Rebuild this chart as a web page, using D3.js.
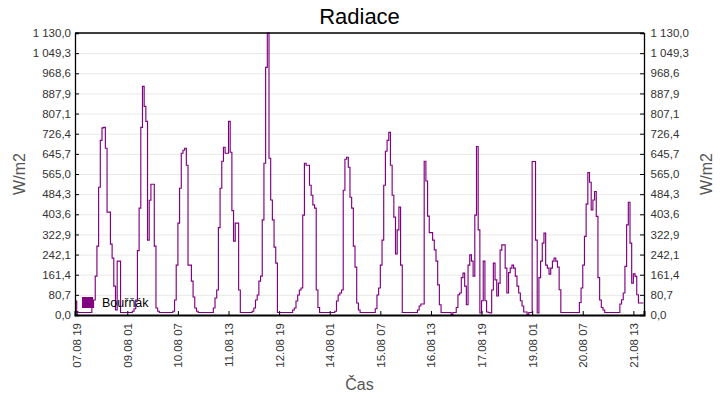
<!DOCTYPE html>
<html>
<head>
<meta charset="utf-8">
<script src="https://cdn.jsdelivr.net/npm/d3@7"></script>
<style>
  body { margin: 0; background: #fff; }
  svg { display: block; font-family: "Liberation Sans", Arial, sans-serif; }
</style>
</head>
<body>
<div class="chart"></div>
<script>
// Data: hourly radiation readings, first one at startTime
var startTime = "2019-08-07T18:00:00Z";
var endTime = "2019-08-21T19:18:00Z";
var radiace = [
  // 07.08 18-23
  56, 12, 10, 10, 10, 10,
  // 08.08
  10, 10, 10, 10, 30, 60, 156, 276, 512, 700, 750, 752, 668, 412, 412, 284, 228, 116, 20, 216, 216, 10, 10, 10,
  // 09.08
  10, 10, 10, 10, 15, 25, 60, 258, 428, 752, 916, 836, 776, 300, 460, 524, 524, 276, 28, 15, 10, 10, 10, 10,
  // 10.08
  10, 10, 10, 10, 15, 60, 200, 368, 508, 648, 660, 668, 600, 200, 200, 136, 72, 28, 15, 10, 10, 10, 10, 10,
  // 11.08
  10, 10, 10, 10, 28, 68, 100, 350, 508, 616, 672, 648, 648, 776, 652, 418, 296, 368, 368, 100, 10, 10, 10, 10,
  // 12.08
  10, 10, 10, 15, 28, 60, 80, 136, 156, 381, 608, 992, 1130, 628, 461, 381, 272, 208, 10, 10, 10, 10, 10, 10,
  // 13.08
  10, 10, 10, 20, 28, 56, 80, 100, 108, 400, 608, 600, 600, 520, 480, 441, 428, 100, 30, 10, 10, 10, 10, 10,
  // 14.08
  10, 10, 10, 10, 15, 56, 80, 88, 100, 500, 624, 632, 592, 472, 428, 276, 192, 48, 20, 10, 10, 10, 10, 10,
  // 15.08
  10, 10, 10, 10, 25, 80, 108, 200, 300, 520, 656, 700, 732, 600, 480, 392, 245, 341, 432, 200, 10, 10, 10, 10,
  // 16.08
  10, 10, 10, 10, 10, 20, 36, 44, 44, 616, 537, 396, 330, 330, 300, 261, 216, 121, 41, 10, 10, 10, 10, 10,
  // 17.08
  10, 2, 10, 10, 30, 81, 88, 150, 168, 116, 41, 200, 241, 216, 156, 400, 675, 341, 8, 57, 216, 57, 12, 10,
  // 18.08
  8, 100, 208, 141, 76, 128, 260, 281, 281, 188, 88, 170, 188, 200, 188, 156, 116, 88, 57, 36, 12, 12, 2, 10,
  // 19.08
  10, 615, 615, 300, 8, 150, 216, 288, 328, 200, 188, 164, 188, 216, 228, 216, 192, 101, 10, 10, 10, 10, 10, 10,
  // 20.08
  10, 10, 10, 10, 10, 50, 108, 200, 315, 444, 571, 532, 421, 461, 495, 395, 150, 60, 30, 20, 10, 10, 10, 10,
  // 21.08 00-19
  10, 10, 10, 10, 10, 44, 61, 88, 195, 361, 452, 288, 128, 165, 155, 81, 48, 48, 48, 48
];
var xTickLabels = ["07.08 19", "09.08 01", "10.08 07", "11.08 13", "12.08 19", "14.08 01",
                   "15.08 07", "16.08 13", "17.08 19", "19.08 01", "20.08 07", "21.08 13"];
var yMax = 1130;
var yTickCount = 14;
var seriesName = "Bouřňák";

// Configuration
var width = 720;
var height = 400;
var plotLeft = 75, plotRight = 644, plotTop = 33, plotBottom = 315;
var purple = "#800080";

var start = new Date(startTime);
var parseTick = d3.utcParse("%Y %d.%m %H");
var tickDates = xTickLabels.map(function(s) { return parseTick("2019 " + s); });

var x = d3.scaleUtc()
    .domain([start, new Date(endTime)])
    .range([plotLeft, plotRight]);

var y = d3.scaleLinear()
    .domain([0, yMax])
    .range([plotBottom, plotTop]);

var yTicks = d3.range(yTickCount + 1).map(function(i) { return i * yMax / yTickCount; });

var cz = d3.formatLocale({decimal: ",", thousands: " ", grouping: [3], currency: ["", ""]});
var fmt = cz.format(",.1f");

var svg = d3.select(".chart").append("svg")
    .attr("width", width)
    .attr("height", height);

svg.append("defs").append("clipPath").attr("id", "plot")
  .append("rect")
    .attr("x", plotLeft).attr("y", plotTop - 1)
    .attr("width", plotRight - plotLeft).attr("height", plotBottom - plotTop + 1);

// gridlines
svg.append("g")
    .attr("transform", "translate(" + plotLeft + ",0)")
    .call(d3.axisLeft(y).tickValues(yTicks).tickSize(-(plotRight - plotLeft)).tickFormat(""))
    .call(function(g) {
      g.select(".domain").remove();
      g.selectAll("line").attr("stroke", "#e8e8e8").attr("stroke-width", 1);
    });

// data line
var points = radiace.map(function(v, i) {
  return {t: d3.utcHour.offset(start, i), v: v};
});

var line = d3.line()
    .curve(d3.curveStepAfter)
    .x(function(d) { return x(d.t); })
    .y(function(d) { return y(d.v); });

svg.append("path")
    .datum(points)
    .attr("clip-path", "url(#plot)")
    .attr("fill", "none")
    .attr("stroke", purple)
    .attr("stroke-width", 1.15)
    .attr("d", line);

// axes
function styleAxis(g, size) {
  g.selectAll("text").attr("fill", "#333").style("font-size", size + "px");
  g.selectAll("line").attr("stroke", "#000");
  g.select(".domain").attr("stroke", "#000").attr("stroke-width", 1.3);
}

svg.append("g")
    .attr("transform", "translate(" + plotLeft + ",0)")
    .call(d3.axisLeft(y).tickValues(yTicks).tickSize(-4).tickPadding(4).tickFormat(fmt))
    .call(function(g) { styleAxis(g, 11.5); });

svg.append("g")
    .attr("transform", "translate(" + plotRight + ",0)")
    .call(d3.axisRight(y).tickValues(yTicks).tickSize(-4).tickPadding(6.5).tickFormat(fmt))
    .call(function(g) { styleAxis(g, 11.5); });

svg.append("g")
    .attr("transform", "translate(0," + plotBottom + ")")
    .call(d3.axisBottom(x).tickValues(tickDates).tickSize(-4)
      .tickFormat(function(d, i) { return xTickLabels[i]; }))
    .call(function(g) {
      styleAxis(g, 11.5);
      g.select(".domain").attr("stroke-width", 2);
      g.selectAll("text")
        .attr("transform", "rotate(-90)")
        .attr("text-anchor", "end")
        .attr("x", -8)
        .attr("y", 0)
        .attr("dy", "0.35em");
    });

// top border
svg.append("line")
    .attr("x1", plotLeft).attr("x2", plotRight)
    .attr("y1", plotTop).attr("y2", plotTop)
    .attr("stroke", "#000").attr("stroke-width", 1.3);

// titles
svg.append("text")
    .attr("x", (plotLeft + plotRight) / 2)
    .attr("y", 24)
    .attr("text-anchor", "middle")
    .style("font-size", "22px")
    .attr("fill", "#000")
    .text("Radiace");

svg.append("text")
    .attr("transform", "translate(25," + (plotTop + plotBottom) / 2 + ") rotate(-90)")
    .attr("text-anchor", "middle")
    .style("font-size", "16px")
    .attr("fill", "#555")
    .text("W/m2");

svg.append("text")
    .attr("transform", "translate(712," + (plotTop + plotBottom) / 2 + ") rotate(-90)")
    .attr("text-anchor", "middle")
    .style("font-size", "16px")
    .attr("fill", "#555")
    .text("W/m2");

svg.append("text")
    .attr("x", (plotLeft + plotRight) / 2)
    .attr("y", 390)
    .attr("text-anchor", "middle")
    .style("font-size", "16px")
    .attr("fill", "#555")
    .text("Čas");

// legend
var legend = svg.append("g").attr("transform", "translate(82,297)");
legend.append("rect")
    .attr("width", 11).attr("height", 11)
    .attr("fill", purple);
legend.append("text")
    .attr("x", 20).attr("y", 10)
    .style("font-size", "12.5px")
    .attr("fill", "#000")
    .text(seriesName);
</script>
</body>
</html>
